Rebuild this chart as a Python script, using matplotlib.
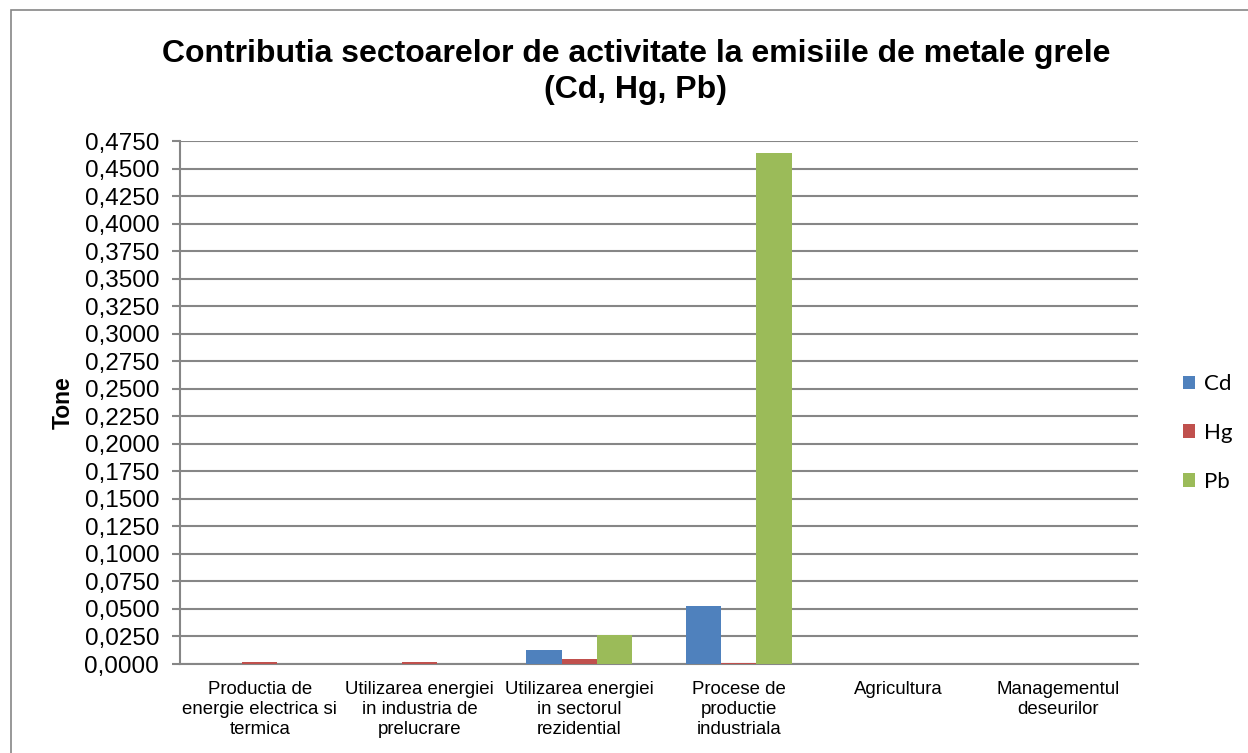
import matplotlib
matplotlib.use("Agg")
import matplotlib.pyplot as plt
import numpy as np
from matplotlib.ticker import FuncFormatter, MultipleLocator
from matplotlib.patches import Rectangle

categories = [
    "Productia de\nenergie electrica si\ntermica",
    "Utilizarea energiei\nin industria de\nprelucrare",
    "Utilizarea energiei\nin sectorul\nrezidential",
    "Procese de\nproductie\nindustriala",
    "Agricultura",
    "Managementul\ndeseurilor",
]
cd = [0.0, 0.0, 0.0127, 0.0527, 0.0, 0.0]
hg = [0.0015, 0.0022, 0.0045, 0.0010, 0.0, 0.0]
pb = [0.0, 0.0, 0.0263, 0.4640, 0.0, 0.0]
series_names = ["Cd", "Hg", "Pb"]
colors = ["#4F81BD", "#C0504D", "#9BBB59"]

plt.rcParams["font.family"] = ["Liberation Sans", "DejaVu Sans"]

fig = plt.figure(figsize=(12.48, 7.53), dpi=100)
# outer chart frame, right/bottom edges run off the picture
fig.patches.append(Rectangle((11 / 1248, -0.01), 1.0, 1 - 10 / 753 + 0.01,
                             transform=fig.transFigure, fill=False,
                             edgecolor="#868686", linewidth=1.2))
ax = fig.add_axes([180 / 1248, 1 - 664 / 753, (1138 - 180) / 1248, (664 - 141) / 753])

x = np.arange(len(categories))
w = 0.22
for i, (vals, name, c) in enumerate(zip([cd, hg, pb], series_names, colors)):
    ax.bar(x + (i - 1) * w, vals, width=w, color=c, label=name, zorder=3)

ax.set_xlim(-0.5, len(categories) - 0.5)
ax.set_ylim(0, 0.475)
ax.yaxis.set_major_locator(MultipleLocator(0.025))
ax.yaxis.set_major_formatter(FuncFormatter(lambda v, p: f"{v:.4f}".replace(".", ",")))
ax.grid(axis="y", color="#868686", linewidth=1.5, zorder=0)
for s in ["top", "right"]:
    ax.spines[s].set_visible(False)
for s in ["left", "bottom"]:
    ax.spines[s].set_color("#868686")
    ax.spines[s].set_linewidth(1.5)
ax.tick_params(axis="y", length=6, width=1.5, color="#868686", labelsize=17.5, pad=9)
ax.set_xticks(x)
ax.set_xticklabels(categories, fontsize=13.4, linespacing=1.2)
ax.tick_params(axis="x", length=0, pad=12.5)
ax.set_ylabel("Tone", fontsize=16.5, fontweight="bold")
ax.yaxis.set_label_coords((75 - 180) / 958, 0.5)

fig.text(636 / 1248, 1 - 72 / 753,
         "Contributia sectoarelor de activitate la emisiile de metale grele\n(Cd, Hg, Pb)",
         fontsize=23, fontweight="bold", ha="center", va="center", linespacing=1.3)

fig.legend(loc="center left", bbox_to_anchor=(1163 / 1248, 1 - 433 / 753),
           frameon=False, handlelength=0.55, handleheight=0.55,
           labelspacing=1.3, handletextpad=0.4,
           prop={"family": ["Lato", "DejaVu Sans"], "size": 16})

fig.savefig("out.png", dpi=100)
